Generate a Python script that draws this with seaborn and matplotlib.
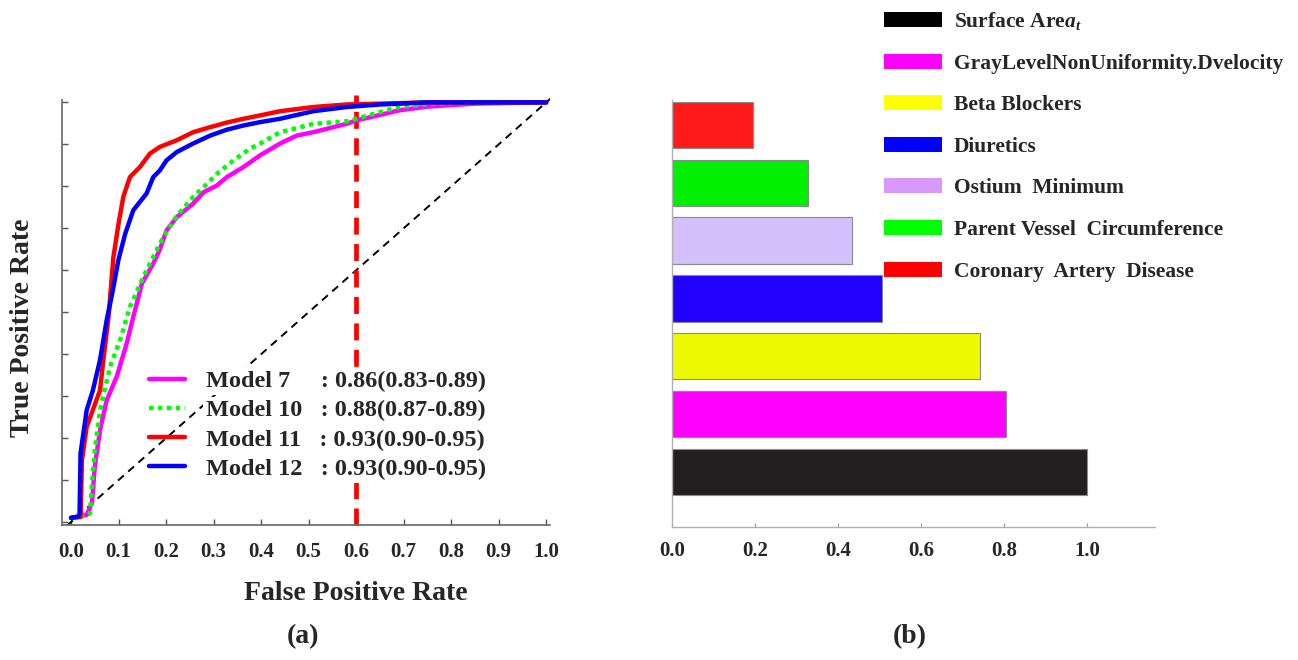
import numpy as np
import pandas as pd
import matplotlib
matplotlib.use("Agg")
import matplotlib.pyplot as plt
from matplotlib.patches import Patch
import seaborn as sns

# ---------------- data ----------------
m7_fpr = [0, 0.033, 0.044, 0.05, 0.061, 0.075, 0.096, 0.117, 0.131, 0.149, 0.173, 0.187, 0.201, 0.223,
          0.257, 0.279, 0.307, 0.328, 0.363, 0.398, 0.44, 0.475, 0.51, 0.58, 0.60, 0.65, 0.69, 0.75, 0.85, 1.0]
m7_tpr = [0.01, 0.017, 0.045, 0.132, 0.219, 0.29, 0.346, 0.425, 0.489, 0.568, 0.616, 0.65, 0.695, 0.727,
          0.759, 0.786, 0.802, 0.822, 0.846, 0.874, 0.902, 0.921, 0.929, 0.949, 0.957, 0.97, 0.981, 0.99, 0.997, 1.0]

m10_fpr = [0, 0.015, 0.04, 0.044, 0.05, 0.061, 0.082, 0.103, 0.124, 0.152, 0.173, 0.194, 0.223, 0.257,
           0.279, 0.307, 0.342, 0.377, 0.398, 0.44, 0.51, 0.58, 0.60, 0.65, 0.69, 0.76, 0.85, 1.0]
m10_tpr = [0.01, 0.01, 0.02, 0.092, 0.171, 0.267, 0.37, 0.433, 0.513, 0.584, 0.632, 0.679, 0.73, 0.775,
           0.798, 0.83, 0.862, 0.89, 0.902, 0.929, 0.949, 0.955, 0.961, 0.977, 0.989, 0.997, 1.0, 1.0]

m11_fpr = [0, 0.02, 0.023, 0.033, 0.061, 0.068, 0.079, 0.089, 0.100, 0.110, 0.124, 0.145, 0.166, 0.187,
           0.223, 0.257, 0.293, 0.328, 0.363, 0.398, 0.44, 0.51, 0.58, 0.65, 0.75, 1.0]
m11_tpr = [0.01, 0.012, 0.148, 0.227, 0.314, 0.386, 0.489, 0.630, 0.711, 0.775, 0.822, 0.846, 0.878, 0.894,
           0.910, 0.929, 0.941, 0.952, 0.961, 0.969, 0.979, 0.989, 0.995, 0.997, 1.0, 1.0]

m12_fpr = [0, 0.015, 0.018, 0.02, 0.033, 0.046, 0.061, 0.075, 0.088, 0.0996, 0.114, 0.131, 0.159, 0.173,
           0.187, 0.201, 0.223, 0.257, 0.293, 0.328, 0.363, 0.398, 0.44, 0.51, 0.58, 0.65, 0.75, 1.0]
m12_tpr = [0.01, 0.013, 0.02, 0.164, 0.267, 0.314, 0.386, 0.481, 0.552, 0.624, 0.687, 0.743, 0.783, 0.822,
           0.838, 0.862, 0.882, 0.902, 0.921, 0.935, 0.945, 0.953, 0.961, 0.979, 0.989, 0.995, 1.0, 1.0]

model_labels = ["Model 7     : 0.86(0.83-0.89)",
                "Model 10   : 0.88(0.87-0.89)",
                "Model 11   : 0.93(0.90-0.95)",
                "Model 12   : 0.93(0.90-0.95)"]
fpr_threshold = 0.6
roc_ticks = [0.0, 0.1, 0.2, 0.3, 0.4, 0.5, 0.6, 0.7, 0.8, 0.9, 1.0]

features = ["Coronary  Artery  Disease", "Parent Vessel  Circumference", "Ostium  Minimum",
            "Diuretics", "Beta Blockers", "GrayLevelNonUniformity.Dvelocity", r"Surface Are$a_t$"]
importance = [0.195, 0.328, 0.434, 0.506, 0.742, 0.805, 1.0]
bar_ticks = [0.0, 0.2, 0.4, 0.6, 0.8, 1.0]

# ---------------- style ----------------
sns.set_theme(style="white")
plt.rcParams["font.family"] = ["Liberation Serif", "DejaVu Serif"]
plt.rcParams["font.weight"] = "bold"
plt.rcParams["mathtext.fontset"] = "custom"
plt.rcParams["mathtext.it"] = "Liberation Serif:italic:bold"
plt.rcParams["mathtext.rm"] = "Liberation Serif:bold"

W, H = 1298, 660
fig = plt.figure(figsize=(W / 100, H / 100), dpi=100)

# ---------------- (a) ROC ----------------
ax1 = fig.add_axes([62 / W, (H - 525) / H, 488 / W, (525 - 94) / H])
models = [(m7_fpr, m7_tpr, "#ff00ff", "-"),
          (m10_fpr, m10_tpr, "#00ff00", (0, (1, 1))),
          (m11_fpr, m11_tpr, "#ff0000", "-"),
          (m12_fpr, m12_tpr, "#0000ff", "-")]
ax1.plot([-0.03, 1.012], [-0.03, 1.012], color="black", lw=1.4, dashes=(4, 3), zorder=1)
for (fx, ty, col, ls), lab in zip(models, model_labels):
    df = pd.DataFrame({"fpr": fx, "tpr": ty})
    sns.lineplot(data=df, x="fpr", y="tpr", sort=False, estimator=None, color=col,
                 linestyle=ls, lw=3.2, ax=ax1, label=lab, zorder=3)
ax1.plot([fpr_threshold, fpr_threshold], [-0.007, 1.017], color="#ff0000", lw=3.4,
         dashes=(3.6, 2.0), zorder=2, clip_on=False)

ax1.set_xlim(-0.019, 1.008)
ax1.set_ylim(-0.007, 1.02)
ax1.set_xticks(roc_ticks)
ax1.set_xticklabels([f"{t:.1f}" for t in roc_ticks])
ax1.set_yticks(roc_ticks)
ax1.set_yticklabels([])
ax1.tick_params(axis="both", direction="in", length=4, width=1, color="#555555",
                labelsize=15, pad=12, bottom=True, left=True)
for s in ["top", "right"]:
    ax1.spines[s].set_visible(False)
for s in ["left", "bottom"]:
    ax1.spines[s].set_color("#666666")
    ax1.spines[s].set_linewidth(1.2)
ax1.spines["left"].set_bounds(-0.007, 1.005)
ax1.set_xlabel("False Positive Rate", fontsize=20, fontweight="bold", va="center")
ax1.xaxis.set_label_coords((356 - 62) / 488, -(593 - 525) / 431)
ax1.set_ylabel("True Positive Rate", fontsize=20, fontweight="bold", va="center")
ax1.yaxis.set_label_coords(-(62 - 23) / 488, (525 - 328) / 431)

leg = ax1.legend(loc="upper left", bbox_to_anchor=(149 / W, 1 - 370 / H), bbox_transform=fig.transFigure,
                 frameon=True, borderpad=0, borderaxespad=0, handlelength=1.5, handletextpad=0.85,
                 labelspacing=0.3, prop={"family": "Liberation Serif", "weight": "bold", "size": 17.5})
leg.get_frame().set_alpha(0)
leg.get_frame().set_edgecolor("none")
for t in leg.get_texts():
    t.set_bbox(dict(facecolor="white", edgecolor="none", pad=2.5))

# ---------------- (b) importance ----------------
bar_colors = ["#ff1a1a", "#00f000", "#d3c0fc", "#2200ff", "#eefa00", "#ff00ff", "#231f20"]
legend_colors = ["#000000", "#ff00ff", "#ffff00", "#0000ff", "#d899fa", "#00ff00", "#ff0000"]

ax2 = fig.add_axes([672 / W, (H - 527) / H, 483 / W, (527 - 100) / H])
bdf = pd.DataFrame({"feature": features, "importance": importance})
sns.barplot(data=bdf, x="importance", y="feature", hue="feature", palette=bar_colors,
            saturation=1, orient="h", width=0.8, edgecolor="#8a8a8a", linewidth=0.8,
            legend=False, ax=ax2)
ax2.set_xlim(0, 1.164)
ax2.set_ylim(6.95, -0.43)
ax2.set_xticks(bar_ticks)
ax2.set_xticklabels([f"{t:.1f}" for t in bar_ticks])
ax2.set_yticks(range(len(features)))
ax2.set_yticklabels([])
ax2.set_xlabel("")
ax2.set_ylabel("")
ax2.tick_params(axis="both", direction="in", length=3, width=0.8, color="#999999",
                labelsize=15, pad=10, bottom=True, left=True)
for s in ["top", "right"]:
    ax2.spines[s].set_visible(False)
for s in ["left", "bottom"]:
    ax2.spines[s].set_color("#b0b0b0")
    ax2.spines[s].set_linewidth(1.0)

order = [6, 5, 4, 3, 2, 1, 0]
handles = [Patch(facecolor=legend_colors[i], edgecolor="none") for i in range(len(order))]
labels = [features[i] for i in order]
fig.legend(handles, labels, loc="upper left", bbox_to_anchor=(884 / W, 1 - 10 / H),
           frameon=False, borderpad=0, borderaxespad=0, handlelength=2.7, handleheight=0.7,
           handletextpad=0.55, labelspacing=1.0,
           prop={"family": "Liberation Serif", "weight": "bold", "size": 15.5})

fig.text(303 / W, 1 - 637 / H, "(a)", ha="center", va="center", fontsize=20, fontweight="bold")
fig.text(910 / W, 1 - 637 / H, "(b)", ha="center", va="center", fontsize=20, fontweight="bold")

fig.savefig("out.png", dpi=100)
